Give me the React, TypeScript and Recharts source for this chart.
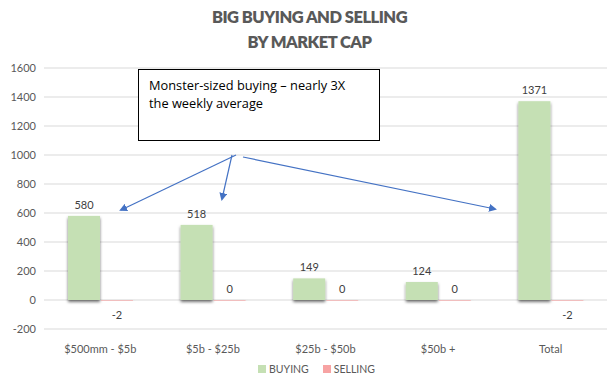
import React from "react";
import {
  BarChart,
  Bar,
  XAxis,
  YAxis,
  CartesianGrid,
  Legend,
  LabelList,
} from "recharts";

const categories = ["$500mm - $5b", "$5b - $25b", "$25b - $50b", "$50b +", "Total"];
const buying = [580, 518, 149, 124, 1371];
const selling = [-2, 0, 0, 0, -2];
const yTicks = [-200, 0, 200, 400, 600, 800, 1000, 1200, 1400, 1600];

const data = categories.map((name, i) => ({
  name,
  buying: buying[i],
  selling: selling[i],
}));

const FONT = "Lato, 'Open Sans', sans-serif";
const GREEN = "#C5E0B4";
const PINK = "#F7A3A3";
const TEXT = "#595959";

const ShadowBar = (props: any) => {
  const { x, y, width, height, fill } = props;
  const h = Math.max(Math.abs(height), 0.6);
  const top = height < 0 ? y + height : y;
  return (
    <rect
      x={x}
      y={top}
      width={width}
      height={h}
      fill={fill}
      filter="url(#barShadow)"
    />
  );
};

const ValueLabel = (props: any) => {
  const { x, y, width, height, value } = props;
  const neg = value < 0;
  const cx = x + width / 2;
  const ty = neg ? y + Math.abs(height) + 18 : y - 7;
  return (
    <text
      x={cx}
      y={ty}
      textAnchor="middle"
      fontSize={11}
      fontFamily={FONT}
      fill="#404040"
    >
      {value}
    </text>
  );
};

const LegendContent = () => (
  <div
    style={{
      display: "flex",
      justifyContent: "center",
      gap: 14,
      fontFamily: FONT,
      fontSize: 10.5,
      color: TEXT,
      paddingLeft: 26,
      paddingTop: 4,
    }}
  >
    {[
      ["BUYING", GREEN],
      ["SELLING", PINK],
    ].map(([label, color]) => (
      <span key={label} style={{ display: "flex", alignItems: "center", gap: 3 }}>
        <span style={{ width: 8, height: 8, background: color, display: "inline-block" }} />
        {label}
      </span>
    ))}
  </div>
);

export default function App() {
  return (
    <div
      style={{
        position: "absolute",
        left: 0,
        top: 0,
        width: 613,
        height: 379,
        background: "#fff",
        fontFamily: FONT,
      }}
    >
      <div
        style={{
          position: "absolute",
          top: 5,
          left: 0,
          width: 613,
          textAlign: "center",
          fontWeight: 800,
          fontSize: 16.5,
          letterSpacing: -0.5,
          lineHeight: "25px",
          color: TEXT,
          paddingLeft: 6,
          boxSizing: "border-box",
        }}
      >
        BIG BUYING AND SELLING
        <br />
        BY MARKET CAP
      </div>
      <BarChart
        width={613}
        height={379}
        data={data}
        margin={{ top: 68, right: 6, left: 0, bottom: 0 }}
        barCategoryGap="21%"
        barGap={1}
      >
        <defs>
          <filter id="barShadow" x="-20%" y="-20%" width="150%" height="150%">
            <feDropShadow dx={0} dy={2} stdDeviation={1.5} floodColor="#000" floodOpacity={0.55} />
          </filter>
        </defs>
        <CartesianGrid vertical={false} stroke="#D9D9D9" />
        <XAxis
          dataKey="name"
          axisLine={false}
          tickLine={false}
          height={30}
          tick={{ fontSize: 11, fill: TEXT, fontFamily: FONT }}
          tickMargin={10}
        />
        <YAxis
          domain={[-200, 1600]}
          ticks={yTicks}
          axisLine={false}
          tickLine={false}
          width={44}
          tick={{ fontSize: 11, fill: TEXT, fontFamily: FONT }}
        />
        <Legend verticalAlign="bottom" height={20} content={<LegendContent />} />
        <Bar dataKey="buying" name="BUYING" fill={GREEN} barSize={32} shape={<ShadowBar />} isAnimationActive={false}>
          <LabelList dataKey="buying" content={<ValueLabel />} />
        </Bar>
        <Bar dataKey="selling" name="SELLING" fill={PINK} barSize={32} shape={<ShadowBar />} isAnimationActive={false}>
          <LabelList dataKey="selling" content={<ValueLabel />} />
        </Bar>
      </BarChart>
      <div
        style={{
          position: "absolute",
          left: 138,
          top: 69,
          width: 242,
          height: 72,
          border: "1px solid #000",
          background: "#fff",
          boxSizing: "border-box",
          padding: "6px 10px",
          fontFamily: "'Open Sans', sans-serif",
          fontSize: 12.8,
          lineHeight: "18px",
          color: "#000",
        }}
      >
        Monster-sized buying – nearly 3X
        <br />
        the weekly average
      </div>
      <svg
        width={613}
        height={379}
        style={{ position: "absolute", left: 0, top: 0, pointerEvents: "none" }}
      >
        <defs>
          <marker id="arrow" markerWidth="8" markerHeight="8" refX="6" refY="4" orient="auto" markerUnits="userSpaceOnUse">
            <path d="M0,0 L8,4 L0,8 z" fill="#4472C4" />
          </marker>
        </defs>
        <line x1={236} y1={155} x2={121} y2={210} stroke="#4472C4" strokeWidth={1.2} markerEnd="url(#arrow)" />
        <line x1={232} y1={155} x2={222} y2={199} stroke="#4472C4" strokeWidth={1.2} markerEnd="url(#arrow)" />
        <line x1={243} y1={157} x2={495} y2={209} stroke="#4472C4" strokeWidth={1.2} markerEnd="url(#arrow)" />
      </svg>
    </div>
  );
}
